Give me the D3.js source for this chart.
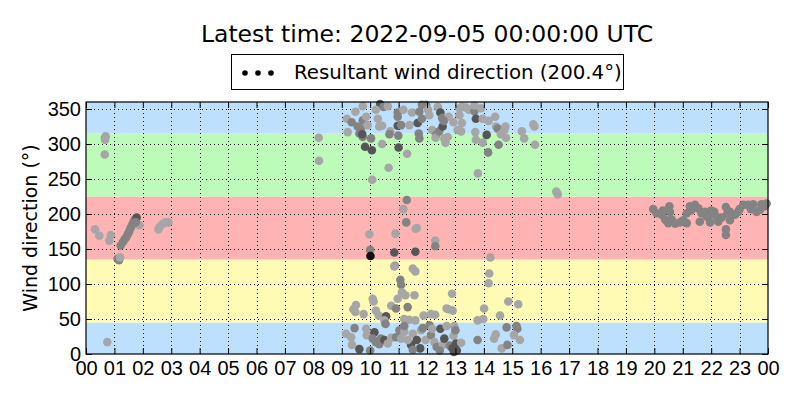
<!DOCTYPE html>
<html>
<head>
<meta charset="utf-8">
<script src="https://cdn.jsdelivr.net/npm/d3@7"></script>
<style>
  body { margin: 0; background: #fff; }
  svg { display: block; font-family: "DejaVu Sans", sans-serif; }
</style>
</head>
<body>
<svg id="chart" width="800" height="400"></svg>
<script>
// observation time (hours UTC), direction (deg) and shade level of each point
const obsHour = [
  // 00-03h, 08h
  0.67, 0.69, 0.67, 0.66, 0.32, 0.47, 0.87, 0.82, 0.75, 1.11,
  1.16, 1.2, 1.22, 1.3, 1.36, 1.42, 1.47, 1.52, 1.57, 1.62,
  1.67, 1.72, 1.78, 1.88, 1.75, 2.55, 2.6, 2.7, 2.8, 2.9,
  8.19, 8.2,
  // 09-16h, upper
  9.74, 10.35, 10.47, 10.62, 10.2, 10.97, 10.97, 11.17, 11.47, 11.73,
  11.82, 11.97, 12.04, 12.08, 12.38, 12.47, 12.53, 12.76, 13.14, 13.23,
  13.37, 13.47, 13.67, 13.67, 13.9, 13.72, 13.96, 14.17, 14.4, 9.18,
  9.35, 9.48, 9.56, 9.68, 9.74, 9.86, 9.21, 9.62, 9.74, 9.72,
  9.82, 10.03, 10.06, 9.91, 10.27, 10.32, 10.42, 10.42, 10.71, 10.68,
  10.97, 11.09, 10.99, 11.0, 11.3, 10.65, 10.07, 11.38, 11.67, 11.71,
  11.73, 11.82, 12.18, 12.32, 12.3, 12.43, 12.55, 12.59, 12.61, 12.65,
  12.73, 12.93, 13.08, 13.2, 13.23, 13.14, 13.7, 13.72, 13.96, 14.1,
  14.15, 13.79, 14.43, 14.49, 14.6, 14.72, 14.52, 14.78, 14.76, 15.34,
  15.42, 15.74, 15.78, 15.8, 16.55, 16.6,
  // 09-16h, south
  11.29, 11.17, 11.27, 11.64, 11.6, 10.89, 9.97, 12.29, 12.29, 10.0,
  10.01, 10.85, 11.59, 14.23,
  // 09-16h, east
  10.87, 10.85, 11.5, 11.59, 11.06, 11.09, 11.12, 11.24, 11.56, 10.97,
  11.32, 10.74, 10.91, 14.19, 14.17, 12.88, 12.69, 12.76, 12.9, 14.01,
  10.09, 10.12, 9.5, 9.41, 9.48, 9.77, 10.2, 10.3, 10.56, 10.5,
  12.14, 12.29, 11.88, 11.2, 11.38, 11.59, 13.78, 13.98, 14.57, 14.86,
  15.21,
  // 09-16h, north-east
  9.15, 9.33, 9.45, 9.36, 9.62, 9.86, 9.88, 10.15, 10.09, 10.2,
  10.38, 10.32, 10.5, 10.54, 10.62, 10.74, 10.91, 11.03, 11.09, 11.2,
  11.44, 11.32, 11.5, 11.64, 11.76, 11.79, 11.95, 12.09, 12.14, 12.18,
  12.26, 12.34, 12.47, 12.55, 12.61, 12.69, 12.8, 12.9, 12.93, 12.96,
  13.02, 13.2, 13.0, 13.78, 14.36, 14.42, 14.63, 14.83, 14.8, 15.15,
  15.18, 15.06, 15.27, 11.85, 11.2, 12.95, 13.05, 12.45, 11.5, 10.0,
  // 20-24h
  19.96, 20.08, 20.26, 20.38, 20.53, 20.55, 20.61, 20.49, 20.73, 20.9,
  21.02, 21.14, 21.25, 21.43, 21.55, 21.66, 21.6, 21.78, 21.84, 21.96,
  22.11, 22.19, 22.25, 22.37, 22.52, 22.57, 22.52, 22.52, 22.66, 22.84,
  22.95, 23.13, 23.3, 23.48, 23.6, 23.77, 23.89, 23.72, 22.66, 21.96,
  21.14, 20.3, 21.3, 22.0, 23.0, 23.95, 23.4
];

const obsDir = [
  309, 311, 306, 285, 178, 169, 170, 162, 17, 136,
  134, 138, 155, 160, 164, 167, 171, 175, 180, 184,
  189, 192, 195, 184, 188, 178, 182, 186, 188, 188,
  309, 276,

  354, 357, 353, 354, 349, 345, 339, 349, 345, 346,
  356, 356, 349, 341, 353, 345, 337, 339, 351, 353,
  352, 349, 347, 355, 351, 336, 336, 333, 339, 336,
  331, 346, 325, 322, 334, 339, 317, 315, 310, 314,
  296, 308, 291, 327, 336, 325, 326, 300, 318, 314,
  326, 327, 312, 295, 286, 266, 249, 327, 330, 315,
  308, 336, 320, 313, 309, 318, 325, 333, 308, 302,
  310, 331, 320, 318, 330, 341, 317, 306, 302, 313,
  288, 258, 325, 322, 314, 320, 299, 309, 325, 318,
  308, 328, 325, 299, 232, 228,

  220, 207, 188, 180, 179, 172, 171, 162, 154, 149,
  140, 145, 146, 138,

  126, 125, 122, 118, 106, 99, 88, 84, 84, 79,
  67, 69, 65, 115, 101, 86, 65, 64, 62, 65,
  79, 75, 70, 64, 60, 57, 62, 55, 54, 48,
  57, 56, 55, 50, 49, 48, 48, 50, 55, 75,
  71,

  29, 24, 37, 13, 7, 36, 27, 31, 22, 17,
  22, 14, 20, 43, 15, 23, 24, 34, 22, 32,
  13, 20, 29, 20, 8, 34, 20, 41, 27, 36,
  17, 10, 36, 13, 22, 40, 12, 8, 26, 40,
  15, 16, 34, 20, 22, 28, 8, 13, 38, 40,
  36, 27, 20, 37, 40, 3, 5, 5, 6, 5,

  207, 201, 199, 192, 211, 203, 192, 187, 186, 188,
  191, 201, 211, 213, 208, 201, 189, 203, 196, 188,
  203, 196, 189, 195, 210, 201, 178, 170, 191, 199,
  203, 213, 213, 214, 203, 214, 211, 206, 203, 199,
  187, 205, 205, 205, 207, 215, 207
];

// 0 light, 1 medium, 2 dark, 3 black
const obsLevel = [
  1, 0, 0, 0, 0, 0, 0, 0, 0, 1,
  1, 0, 1, 1, 1, 1, 1, 1, 1, 1,
  1, 1, 2, 0, 1, 0, 0, 0, 0, 0,
  0, 0,

  0, 2, 1, 0, 0, 1, 1, 0, 0, 1,
  1, 1, 0, 0, 0, 2, 1, 0, 0, 0,
  0, 0, 1, 0, 0, 2, 0, 0, 0, 0,
  1, 0, 1, 1, 1, 0, 0, 1, 1, 2,
  2, 1, 2, 0, 0, 0, 0, 0, 0, 1,
  2, 1, 1, 2, 0, 0, 0, 0, 2, 1,
  1, 1, 0, 1, 0, 1, 2, 1, 0, 0,
  0, 0, 0, 0, 0, 0, 0, 0, 0, 2,
  1, 0, 0, 1, 0, 0, 1, 0, 0, 0,
  0, 0, 0, 0, 0, 0,

  1, 0, 1, 0, 0, 0, 0, 0, 1, 1,
  3, 2, 2, 0,

  1, 0, 0, 0, 1, 1, 0, 0, 0, 0,
  1, 0, 1, 0, 0, 0, 0, 0, 0, 0,
  0, 0, 0, 0, 0, 0, 0, 0, 2, 0,
  0, 0, 0, 0, 0, 0, 0, 0, 0, 0,
  0,

  0, 0, 1, 0, 2, 0, 0, 2, 1, 1,
  1, 1, 2, 1, 0, 0, 1, 1, 0, 0,
  2, 0, 0, 2, 2, 0, 0, 1, 1, 0,
  0, 1, 2, 0, 2, 0, 1, 2, 0, 0,
  2, 0, 1, 1, 0, 0, 0, 1, 1, 1,
  1, 0, 0, 1, 1, 2, 2, 1, 1, 1,

  1, 1, 1, 1, 1, 1, 1, 1, 1, 1,
  1, 1, 1, 1, 1, 1, 1, 1, 1, 1,
  1, 1, 1, 1, 1, 1, 1, 1, 1, 1,
  1, 1, 1, 1, 1, 1, 1, 1, 1, 1,
  1, 1, 1, 1, 1, 1, 1
];

// compass sectors shaded behind the points
const sectorEdges = [0, 45, 135, 225, 315, 360];
const hourTicks = d3.range(0, 25);
const dirTicks = d3.range(0, 351, 50);

const titleText = "Latest time: 2022-09-05 00:00:00 UTC";
const legendText = "Resultant wind direction (200.4°)";
const yLabel = "Wind direction (°)";

const sectorColors = ["#bde0ff", "#fffbb4", "#ffb3b3", "#bcfcb8", "#bde0ff"];
const levelColors = ["#a6a6a6", "#838383", "#565656", "#111111"];

const svg = d3.select("#chart");
const margin = { left: 86, right: 32, top: 102, bottom: 46 };
const W = 800, H = 400;

const x = d3.scaleLinear().domain([0, 24]).range([margin.left, W - margin.right]);
const y = d3.scaleLinear().domain([0, 360]).range([H - margin.bottom, margin.top]);

// sector bands
svg.append("g")
  .selectAll("rect")
  .data(d3.pairs(sectorEdges))
  .join("rect")
  .attr("x", x(0))
  .attr("width", x(24) - x(0))
  .attr("y", (d) => y(d[1]))
  .attr("height", (d) => y(d[0]) - y(d[1]))
  .attr("fill", (d, i) => sectorColors[i]);

// dotted grid
const grid = svg.append("g")
  .attr("stroke", "#000")
  .attr("stroke-width", 1)
  .attr("stroke-dasharray", "1,3");

grid.selectAll(".gx")
  .data(hourTicks.filter((h) => h > 0 && h < 24))
  .join("line")
  .attr("x1", (d) => Math.round(x(d)) + 0.5)
  .attr("x2", (d) => Math.round(x(d)) + 0.5)
  .attr("y1", y(0))
  .attr("y2", y(360));

grid.selectAll(".gy")
  .data(dirTicks.filter((d) => d > 0))
  .join("line")
  .attr("y1", (d) => Math.round(y(d)) + 0.5)
  .attr("y2", (d) => Math.round(y(d)) + 0.5)
  .attr("x1", x(0))
  .attr("x2", x(24));

// observations
svg.append("g")
  .selectAll("circle")
  .data(obsHour.map((h, i) => ({ h, d: obsDir[i], l: obsLevel[i] })))
  .join("circle")
  .attr("cx", (d) => x(d.h))
  .attr("cy", (d) => y(d.d))
  .attr("r", 4.3)
  .attr("fill", (d) => levelColors[d.l]);

// axes, ticks pointing inward on all four sides
const hourFmt = (h) => String(h % 24).padStart(2, "0");

const styleAxis = (g) => {
  g.select(".domain").remove();
  g.selectAll("line").attr("stroke", "#000");
  g.selectAll("text").attr("fill", "#000").style("font-size", "20px");
};

svg.append("g")
  .attr("transform", `translate(0,${y(0)})`)
  .call(d3.axisBottom(x).tickValues(hourTicks).tickFormat(hourFmt)
    .tickSizeInner(-6).tickSizeOuter(0).tickPadding(7))
  .call(styleAxis);

svg.append("g")
  .attr("transform", `translate(0,${y(360)})`)
  .call(d3.axisTop(x).tickValues(hourTicks).tickFormat("")
    .tickSizeInner(-6).tickSizeOuter(0))
  .call(styleAxis);

svg.append("g")
  .attr("transform", `translate(${x(0)},0)`)
  .call(d3.axisLeft(y).tickValues(dirTicks).tickFormat(d3.format("d"))
    .tickSizeInner(-6).tickSizeOuter(0).tickPadding(5))
  .call(styleAxis);

svg.append("g")
  .attr("transform", `translate(${x(24)},0)`)
  .call(d3.axisRight(y).tickValues(dirTicks).tickFormat("")
    .tickSizeInner(-6).tickSizeOuter(0))
  .call(styleAxis);

// frame
svg.append("rect")
  .attr("x", x(0))
  .attr("y", y(360))
  .attr("width", x(24) - x(0))
  .attr("height", y(0) - y(360))
  .attr("fill", "none")
  .attr("stroke", "#000")
  .attr("stroke-width", 1.2);

// y label
svg.append("text")
  .attr("transform", `translate(37,${(y(0) + y(360)) / 2}) rotate(-90)`)
  .attr("text-anchor", "middle")
  .style("font-size", "19px")
  .text(yLabel);

// title
svg.append("text")
  .attr("x", (x(0) + x(24)) / 2)
  .attr("y", 42)
  .attr("text-anchor", "middle")
  .style("font-size", "23.5px")
  .text(titleText);

// legend
const legend = svg.append("g");
legend.append("rect")
  .attr("x", 231.5)
  .attr("y", 54.5)
  .attr("width", 392)
  .attr("height", 35)
  .attr("fill", "#fff")
  .attr("stroke", "#000");

legend.selectAll("circle")
  .data([0, 1, 2])
  .join("circle")
  .attr("cx", (d) => 245 + d * 13)
  .attr("cy", 73)
  .attr("r", 2.8)
  .attr("fill", "#000");

legend.append("text")
  .attr("x", 294)
  .attr("y", 79)
  .style("font-size", "19.8px")
  .text(legendText);
</script>
</body>
</html>
